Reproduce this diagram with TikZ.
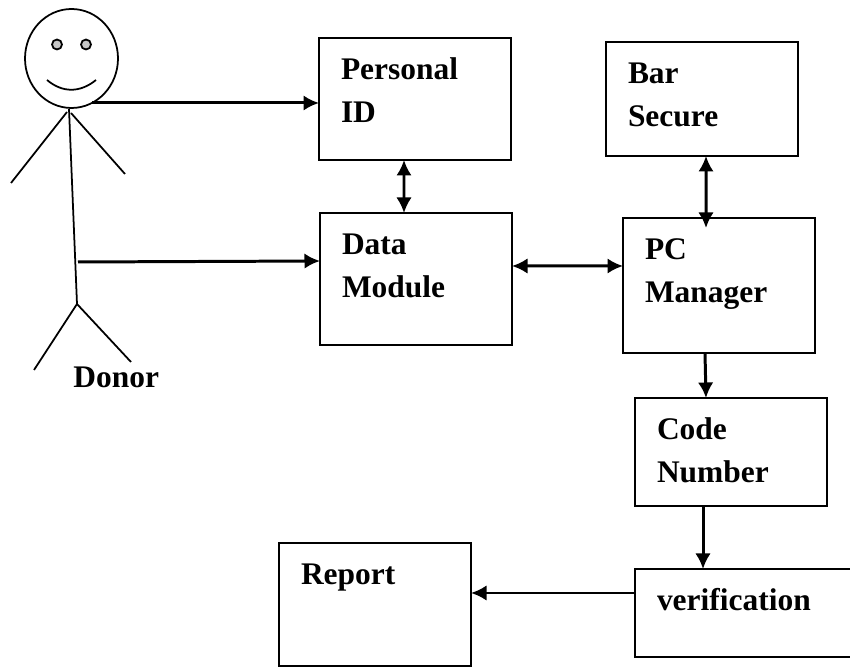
\documentclass[tikz,border=0pt]{standalone}
\usepackage{fontspec}
\setmainfont{Liberation Serif}
\usetikzlibrary{arrows.meta,shapes.geometric}
\newcommand{\unittext}[3][3.84cm]{\parbox[c][#2][t]{#1}{\leftskip=.44cm\rule{0pt}{.83cm}#3}}
\tikzset{
	labelfont/.style={font=\fontsize{17.9}{24.2}\selectfont\bfseries},
	unitbox/.style={draw, line width=1.25pt, inner sep=0pt, outer sep=0pt, minimum width=3.84cm, labelfont},
	link/.style={line width=1.7pt},
	stick/.style={line width=1pt}
}

\begin{document}
\begin{tikzpicture}[>={Latex[length=.31cm,width=.31cm]}]
			\useasboundingbox (0, 0) rectangle (17, 13.34);

			\node[unitbox, minimum height=2.44cm] (personal) at (8.30, 11.36) {\unittext{2.44cm}{Personal\\ID}};
			\node[unitbox, minimum height=2.64cm] (data) at (8.32, 7.76) {\unittext{2.64cm}{Data\\Module}};
			\node[unitbox, minimum height=2.28cm] (bar) at (14.04, 11.36) {\unittext{2.28cm}{Bar\\Secure}};
			\node[unitbox, minimum height=2.70cm] (manager) at (14.38, 7.63) {\unittext{2.70cm}{PC\\Manager}};
			\node[unitbox, minimum height=2.16cm] (code) at (14.62, 4.30) {\unittext{2.16cm}{Code\\Number}};
			\node[unitbox, minimum width=4.4cm, minimum height=1.76cm] (verification) at (14.90, 1.08) {\unittext[4.4cm]{1.76cm}{verification}};
			\node[unitbox, minimum height=2.46cm] (report) at (7.50, 1.25) {\unittext{2.46cm}{Report}};

			% donor
			\node[draw, stick, ellipse, inner sep=0pt, minimum width=1.86cm, minimum height=1.98cm] (head) at (1.43, 12.17) {};
			\node[draw, stick, circle, fill=gray!45, inner sep=0pt, minimum size=.2cm] (lefteye) at (1.14, 12.45) {};
			\node[draw, stick, circle, fill=gray!45, inner sep=0pt, minimum size=.2cm] (righteye) at (1.72, 12.45) {};
			\draw[stick] (.94, 11.74) .. controls (1.25, 11.48) and (1.60, 11.48) .. (1.92, 11.74);
			\draw[stick] (1.38, 11.16) -- (1.54, 7.26);
			\draw[stick] (1.34, 11.10) -- (.22, 9.68);
			\draw[stick] (1.42, 11.08) -- (2.50, 9.86);
			\draw[stick] (.68, 5.94) -- (1.54, 7.26) -- (2.62, 6.10);
			\node[anchor=base west, inner sep=0pt, labelfont] (donor) at (1.46, 5.58) {Donor};

			\coordinate (chin) at (1.84, 11.28);
			\coordinate (hip) at (1.56, 8.10);
			\draw[link, ->] (chin) -- (chin -| personal.west);
			\draw[link, ->] (hip) -- ([yshift=.02cm]hip -| data.west);

			\draw[link, <->] ([xshift=-.22cm]personal.south) -- ([xshift=-.24cm]data.north);
			\draw[link, <->] ([yshift=.26cm]data.east) -- ([yshift=.39cm]manager.west);
			\draw[link, <->] ([xshift=.08cm]bar.south) -- ([xshift=-.26cm,yshift=-.20cm]manager.north);
			\draw[link, ->] ([xshift=-.28cm]manager.south) -- ([xshift=-.50cm]code.north);
			\draw[link, ->] ([xshift=-.56cm]code.south) -- ([xshift=-.84cm]verification.north);
			\draw[link, ->] ([yshift=.40cm]verification.west) -- ([yshift=.23cm]report.east);
		\end{tikzpicture}
\end{document}
